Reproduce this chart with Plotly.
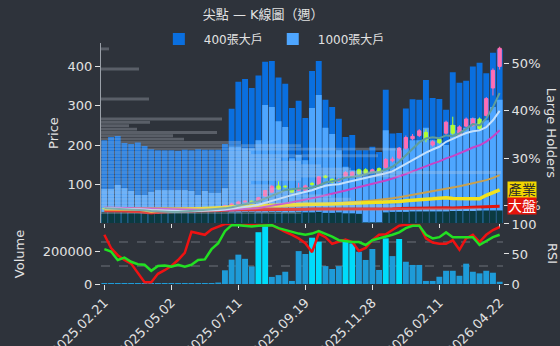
import plotly.graph_objects as go

# ---------------- data ----------------
dates = ["2025.02.21","2025.02.28","2025.03.07","2025.03.14","2025.03.21","2025.03.28","2025.04.03","2025.04.11","2025.04.18","2025.04.25",
         "2025.05.02","2025.05.09","2025.05.16","2025.05.23","2025.05.30","2025.06.06","2025.06.13","2025.06.20","2025.06.27","2025.07.04",
         "2025.07.11","2025.07.18","2025.07.25","2025.08.01","2025.08.08","2025.08.15","2025.08.22","2025.08.29","2025.09.05","2025.09.12",
         "2025.09.19","2025.09.26","2025.10.03","2025.10.09","2025.10.17","2025.10.24","2025.10.31","2025.11.07","2025.11.14","2025.11.21",
         "2025.11.28","2025.12.05","2025.12.12","2025.12.19","2025.12.26","2026.01.09","2026.01.16","2026.01.23","2026.01.30","2026.02.06",
         "2026.02.11","2026.02.26","2026.03.06","2026.03.13","2026.03.20","2026.03.27","2026.04.02","2026.04.10","2026.04.17","2026.04.22"]
tick_dates = ["2025.02.21","2025.05.02","2025.07.11","2025.09.19","2025.11.28","2026.02.11","2026.04.22"]

holders_400 = [33.8,34.5,34.7,33.2,33.0,33.3,32.6,31.9,31.7,31.7,
               31.7,31.6,31.8,31.7,31.9,31.8,31.8,31.8,33.0,40.4,
               46.1,46.7,44.8,47.4,50.3,50.5,47.0,45.7,40.6,42.1,
               38.5,48.4,50.5,42.3,40.8,38.3,34.5,34.9,31.7,31.7,
               32.4,31.3,44.4,35.2,35.3,40.5,42.4,42.3,46.5,42.7,
               42.5,40.2,48.1,45.9,46.3,49.3,50.1,47.9,52.2,52.9]
holders_1000 = [23.5,23.5,24.4,23.7,23.1,22.3,22.3,22.9,23.3,23.3,
                23.3,23.3,23.3,23.1,22.3,23.1,22.7,22.7,23.7,32.4,
                32.4,32.1,32.1,33.8,41.2,40.8,37.8,36.6,30.0,30.7,
                29.6,40.6,43.3,36.4,35.1,31.7,28.2,27.5,27.5,26.1,
                26.3,27.5,35.9,32.1,31.7,32.1,33.8,33.8,36.4,33.8,
                33.8,32.8,37.0,35.9,36.4,38.5,37.4,38.0,40.8,42.3]
holders_base = [18.7,18.7,18.8,18.7,18.6,18.7,18.7,18.6,18.7,18.7,
                18.7,18.7,18.6,18.7,18.7,18.7,18.7,18.7,18.8,18.6,
                18.6,18.7,18.7,18.6,18.6,18.7,18.7,18.6,18.6,18.7,
                18.6,18.6,18.7,18.5,18.5,18.6,18.4,18.4,18.3,16.5,
                16.5,16.5,18.6,18.7,18.7,18.7,18.8,18.8,18.8,18.8,
                18.8,18.8,18.9,18.9,18.9,18.9,19.0,19.0,19.0,19.0]

open_p = [38.5,38,37,36,35,34,33,31,27,29, 30,31,32,34,35.5,35,36,37,40,45,
          51,55,57,57,70,80,96,95,87,85, 85,102,100,121,113,109,121,122,137,137,
          130,140,143,160,167,192,216,224,232,200, 215,230,250,225,248,250,266,275,345,400]
high_p = [40,39,38,37,36,35,34,32,30,31, 32,33,35,36,36,37,38,41,48,53,
          58,59,59,68,86,98,108,98,90,104, 99,106,121,124,115,116,134,133,140,141,
          140,143,167,170,195,224,228,240,240,212, 218,262,272,250,270,270,270,322,395,450]
low_p = [37,36,35,34,33,32,30,25,26,28, 29,30,31,33,34,34,35,36,39,44,
         50,54,54,56,68,78,86,90,78,83, 83,96,98,115,103,106,118,120,124,125,
         128,128,140,156,164,188,212,220,207,196, 203,226,226,222,245,246,238,272,326,392]
close_p = [38,37,36,35,34,33,31,27,29,30, 31,32,34,35,35,36,37,40,46,50,
           55,57,56,66,84,95,88,94,80,90, 96,100,119,118,106,112,130,131,127,128,
           137,131,163,164,192,219,222,236,214,208, 206,258,230,246,266,266,242,318,390,446]

ma5 = [39.2,38.6,37.8,37.0,36.0,35.0,33.8,32.0,30.8,30.0, 29.6,29.8,31.2,32.4,33.4,34.4,35.4,36.6,38.8,41.8,
       45.6,49.6,52.8,56.8,63.6,71.6,77.8,85.4,88.2,89.4, 89.6,92.0,97.0,104.6,107.8,111.0,117.0,119.4,121.2,125.6,
       130.6,130.8,137.2,144.6,157.4,173.8,192.0,206.6,216.6,219.8, 217.2,224.4,223.2,229.6,241.2,253.2,250.0,267.6,296.4,332.4]
ma10 = [39.9,39.5,39.0,38.4,37.8,37.1,36.2,34.9,33.9,33.0, 32.3,31.8,31.6,31.6,31.7,32.0,32.6,33.9,35.6,37.6,
        40.0,42.5,44.7,47.8,52.7,58.6,63.7,69.1,72.5,76.5, 80.6,84.9,91.2,96.4,98.6,100.3,104.5,108.2,112.9,116.7,
        120.8,123.9,128.3,132.9,141.5,152.2,161.4,171.9,180.6,188.6, 195.5,208.2,214.9,223.1,230.5,235.2,237.2,245.4,263.0,286.8]
ma20 = [40.9,40.7,40.4,40.1,39.8,39.4,38.9,38.2,37.6,37.0, 36.5,36.1,35.7,35.4,35.1,34.9,34.7,34.6,34.9,35.3,
        36.2,37.2,38.2,39.7,42.2,45.3,48.2,51.5,54.1,57.1, 60.3,63.7,68.0,72.1,75.7,79.5,84.1,88.7,92.7,96.6,
        100.7,104.4,109.8,114.7,120.1,126.3,133.0,140.1,146.8,152.7, 158.2,166.1,171.6,178.0,186.0,193.7,199.3,208.7,221.8,237.7]
ma60 = [40.0,39.9,39.9,39.8,39.7,39.6,39.4,39.2,39.0,38.8, 38.7,38.6,38.5,38.4,38.3,38.2,38.2,38.2,38.3,38.4,
        38.7,39.0,39.2,39.7,40.4,41.3,42.1,43.0,43.7,44.5, 45.5,46.5,47.8,49.1,50.2,51.4,52.9,54.4,55.8,57.3,
        58.9,60.4,62.5,64.6,67.1,70.1,73.1,76.4,79.3,82.1, 84.8,88.5,91.6,95.1,98.8,102.6,106.0,110.6,116.4,123.2]
industry = [38,38,38,37.5,37,37,35,32,34,35, 36,37,37.5,38,38,38.5,39,40,41,43,
            44,44,45,45,46,47,47,48,48,48.5, 49,49,50,50,50,50.5,51,51,51,52,
            52.5,53,54,55,56,58,60,61,62,63, 65,66,64,64,63,62,63,72,78,86]
market = [33,33,32,32,31,31,29,27,29,30, 31,31,32,32,33,33,33,34,34,34.5,
          35,35,35,35,35.5,35.5,36,36,36,36, 36.5,37,37,37,36.5,36.5,37,37,37,37,
          37,37.5,38,38,38.5,39,39,39.5,39.5,40, 40,40.5,40,40.5,41,41,41,42,43,44]

volume = [5000,5000,4000,5000,4000,5000,6000,6000,5000,4000,
          4000,5000,5000,4000,5000,5000,5000,9000,85000,151000,
          182000,156000,109000,321000,358000,44000,55000,76000,19000,204000,
          186000,287000,262000,111000,93000,111000,266000,252000,200000,149000,
          217000,87000,283000,173000,279000,138000,118000,118000,19000,19000,
          45000,82000,82000,51000,126000,76000,66000,82000,70000,14000]
vol_bright = [0,0,0,0,0,0,0,0,0,0, 0,0,0,0,0,0,0,0,0,0,
              0,0,0,1,1,0,0,0,0,0, 0,1,1,0,0,0,1,1,0,0,
              0,0,1,0,1,0,0,0,0,0, 0,0,0,0,0,0,0,0,0,0]
rsi_fast = [82,60,48,40,34,18,3,3,17,23, 30,40,52,87,84,82,91,95,100,100,
            100,99,98,99,99,98,92,87,82,76, 68,53,84,78,67,71,74,70,55,60,
            73,82,83,90,97,99,99,98,76,69, 67,67,73,57,76,82,70,82,90,95]
rsi_slow = [58,54,40,44,37,33,32,22,30,31, 29,32,29,32,40,41,58,68,88,98,
            98,97,96,97,98,98,93,90,86,84, 82,84,88,84,79,73,71,70,70,65,
            73,76,78,82,86,93,97,97,82,76, 78,86,78,78,78,78,65,71,78,82]

profile_price = [28,36.5,45,53.5,62,70.5,79,87.5,96,104.5,
                 113,121.5,130,138.5,147,155.5,164,172.5,181,189.5,
                 198,206.5,215,223.5,232,240.5,249,257.5,266,274.5,
                 283,291.5,300,308.5,317,325.5,334,342.5,351,359.5,
                 368,376.5,385,393.5,402,410.5,419,427.5,436,444.5]
profile_vol = [2000,3800,3000,2600,2500,2300,2000,1800,1700,1500,
               2000,3000,4000,2500,2200,2000,1800,2770,1500,3000,
               2000,1400,830,720,1160,360,280,490,1210,0,
               0,0,0,0,480,0,0,0,0,0,
               0,0,0,380,0,0,0,0,0,80]

# ---------------- style ----------------
BG = "#2e333b"
FG = "#e2e2e2"
FONT = "DejaVu Sans, Noto Sans CJK TC, sans-serif"

fig = go.Figure()

fig.add_trace(go.Bar(x=dates, y=holders_400, name="400張大戶", marker=dict(color="#0a6fdf", line_width=0),
                     xaxis="x", yaxis="y"))
fig.add_trace(go.Bar(x=dates, y=holders_1000, name="1000張大戶", marker=dict(color="#4ea6ff", line_width=0),
                     xaxis="x", yaxis="y"))
fig.add_trace(go.Bar(x=dates, y=holders_base, name="base", showlegend=False,
                     marker=dict(color="#0b3a41", line_width=0), xaxis="x", yaxis="y"))

fig.add_trace(go.Bar(y=profile_price, x=profile_vol, orientation="h", width=7.4, showlegend=False,
                     marker=dict(color="rgba(205,212,222,0.28)", line_width=0),
                     xaxis="x2", yaxis="y2"))

line_specs = [(ma60, "#c9a04e", 2), (market, "#e3140c", 3), (industry, "#f3e21c", 3.5),
              (ma20, "#c743c7", 2), (ma10, "#c4e0fb", 2), (ma5, "#5f9e9c", 2)]
for vals, col, w in line_specs:
    fig.add_trace(go.Scatter(x=dates, y=vals, mode="lines", line=dict(color=col, width=w),
                             showlegend=False, xaxis="x", yaxis="y3", hoverinfo="skip"))
fig.add_trace(go.Candlestick(x=dates, open=open_p, high=high_p, low=low_p, close=close_p,
                             increasing=dict(line=dict(color="#ff6eb4", width=1), fillcolor="#ff6eb4"),
                             decreasing=dict(line=dict(color="#b2ff2e", width=1), fillcolor="#b2ff2e"),
                             showlegend=False, xaxis="x", yaxis="y3"))

vol_colors = ["#00dcfb" if b else "#1e9bd8" for b in vol_bright]
fig.add_trace(go.Bar(x=dates, y=volume, marker=dict(color=vol_colors, line_width=0), showlegend=False,
                     xaxis="x3", yaxis="y4"))
fig.add_trace(go.Scatter(x=dates, y=rsi_fast, mode="lines", line=dict(color="#f01212", width=2.5),
                         showlegend=False, xaxis="x3", yaxis="y5"))
fig.add_trace(go.Scatter(x=dates, y=rsi_slow, mode="lines", line=dict(color="#22e022", width=2.5),
                         showlegend=False, xaxis="x3", yaxis="y5"))

def ticks():
    return dict(ticks="outside", ticklen=5, tickcolor=FG, tickfont=dict(size=13, color=FG),
                showgrid=False, zeroline=False)

fig.update_layout(
    width=560, height=346,
    margin=dict(l=101, r=57, t=43, b=62, autoexpand=False),
    paper_bgcolor=BG, plot_bgcolor=BG,
    font=dict(family=FONT, size=13, color=FG),
    barmode="overlay", bargap=0.12,
    xaxis_rangeslider_visible=False,
    title=dict(text="尖點 — K線圖（週）", x=0.47, xanchor="center", y=0.958, yanchor="middle",
               font=dict(size=13, color=FG)),
    legend=dict(orientation="h", x=0.425, xanchor="center", y=1.017, yanchor="middle",
                font=dict(size=12, color=FG), bgcolor="rgba(0,0,0,0)", itemwidth=40),
    xaxis=dict(domain=[0, 1], anchor="y", type="category", range=[-0.5, 59.5],
               tickvals=tick_dates, showticklabels=False, ticks="outside", ticklen=4, tickcolor=FG,
               showgrid=False, zeroline=False, showline=False),
    xaxis2=dict(overlaying="x", anchor="y", range=[0, 4020], visible=False),
    xaxis3=dict(domain=[0, 1], anchor="y4", type="category", range=[-0.5, 59.5],
                tickvals=tick_dates, ticktext=tick_dates, tickangle=-45, showline=False, **ticks()),
    yaxis=dict(domain=[0.253, 1], anchor="free", position=1.0, side="right", range=[16.36, 54.27],
               tickvals=[20, 30, 40, 50], ticktext=["20%", "30%", "40%", "50%"], showline=False, **ticks()),
    yaxis2=dict(overlaying="y", anchor="x", range=[1.5, 459.5], visible=False),
    yaxis3=dict(overlaying="y", anchor="x", side="left", range=[1.5, 459.5],
                tickvals=[100, 200, 300, 400], showline=True, linecolor="#9aa0a8", linewidth=1,
                title=dict(text="Price", font=dict(size=13, color=FG), standoff=6), **ticks()),
    yaxis4=dict(domain=[0, 0.249], anchor="x3", range=[0, 372000], tickvals=[0, 200000],
                tickformat="d", showline=False,
                title=dict(text="Volume", font=dict(size=13, color=FG)), **ticks()),
    yaxis5=dict(overlaying="y4", anchor="x3", side="right", range=[0, 100], tickvals=[0, 50, 100],
                showline=False, **ticks()),
    shapes=[
        dict(type="line", xref="paper", x0=0, x1=1, yref="y5", y0=70, y1=70,
             line=dict(color="rgba(160,165,175,0.55)", width=1, dash="dash"), layer="below"),
        dict(type="line", xref="paper", x0=0, x1=1, yref="y5", y0=30, y1=30,
             line=dict(color="rgba(160,165,175,0.55)", width=1, dash="dash"), layer="below"),
    ],
    annotations=[
        dict(text="產業", xref="paper", x=1.0, xanchor="left", xshift=4, yref="y3", y=industry[-1],
             yanchor="middle", showarrow=False, bgcolor="#f2d600", font=dict(size=14, color="#2b2b2b"),
             borderpad=0),
        dict(text="大盤", xref="paper", x=1.0, xanchor="left", xshift=4, yref="y3", y=market[-1],
             yanchor="middle", showarrow=False, bgcolor="#e3140c", font=dict(size=14, color="#ffffff"),
             borderpad=0),
        dict(text="Large Holders", xref="paper", x=1.12, xanchor="center", yref="paper", y=0.627,
             yanchor="middle", textangle=90, showarrow=False, font=dict(size=13, color=FG)),
        dict(text="RSI", xref="paper", x=1.125, xanchor="center", yref="paper", y=0.128,
             yanchor="middle", textangle=90, showarrow=False, font=dict(size=13, color=FG)),
    ],
)

fig.write_html("out.html")
